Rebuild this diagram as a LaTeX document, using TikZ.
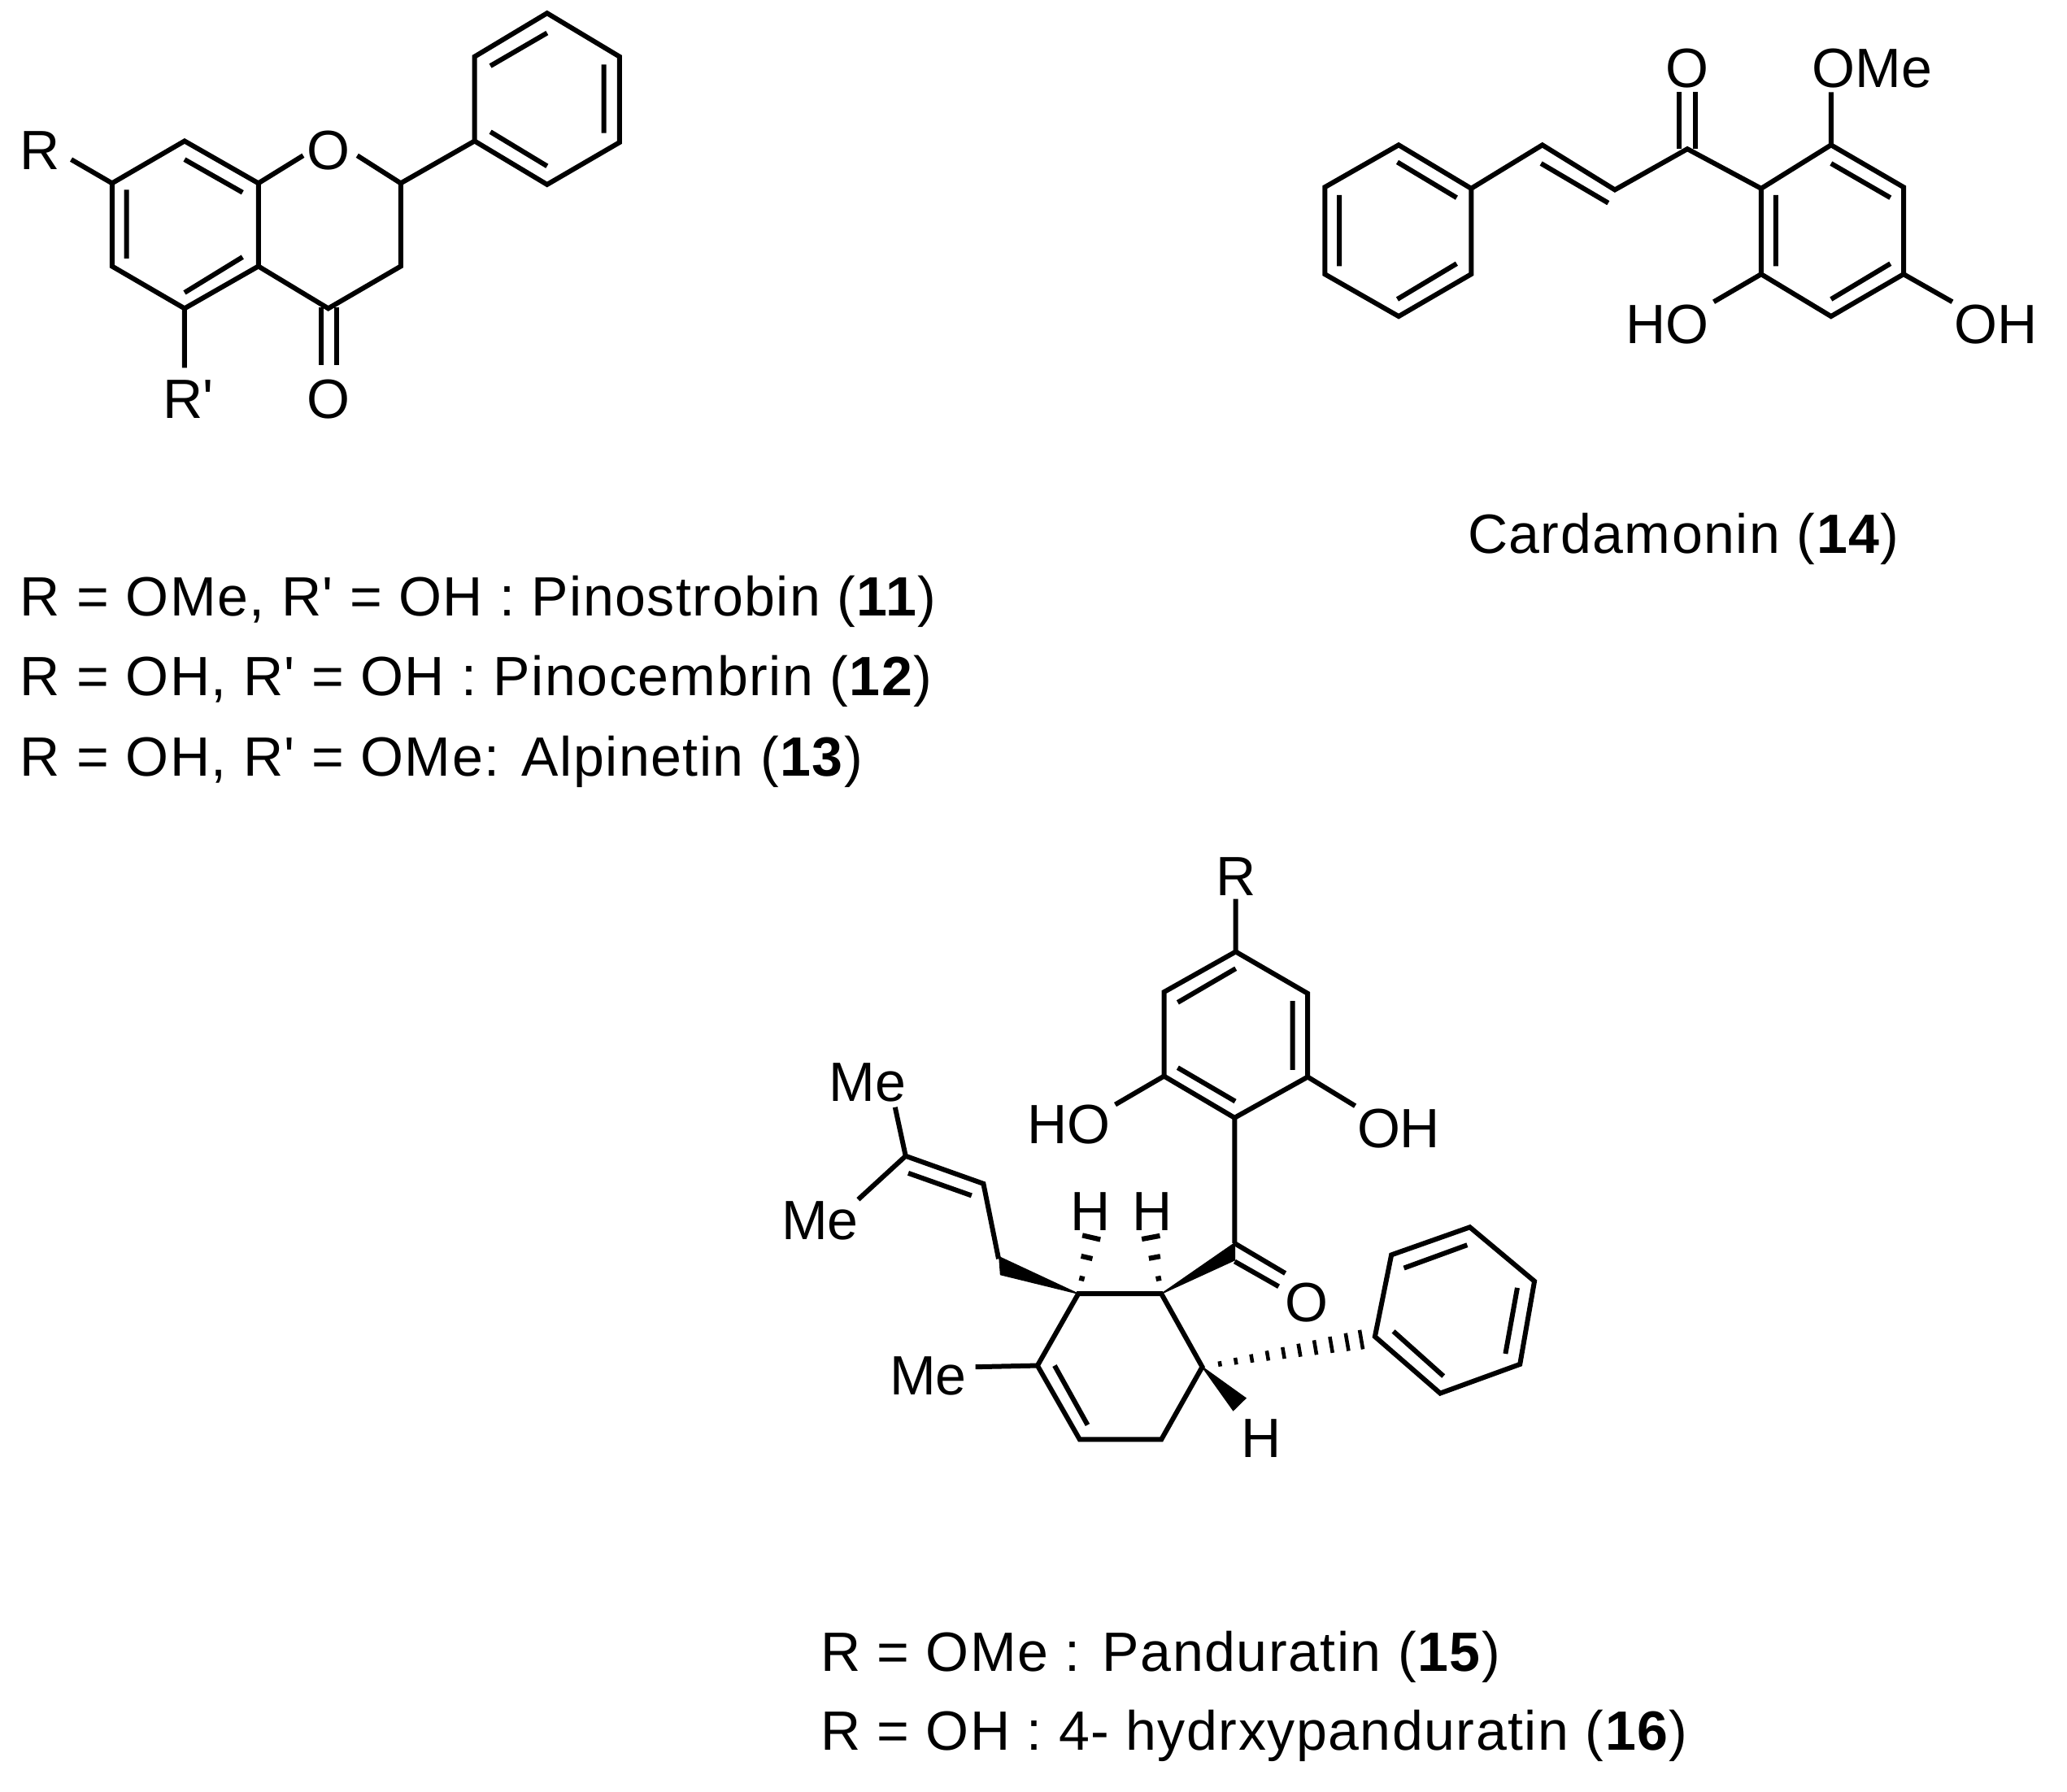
\documentclass[tikz,border=0pt]{standalone}
\usepackage{fontspec}
\setmainfont{Liberation Sans}
\newfontfamily\labfont{Liberation Sans}
\newfontfamily\capfont[LetterSpace=2.2]{Liberation Sans}
\usetikzlibrary{calc}
\begin{document}
\begin{tikzpicture}[x=0.5pt,y=-0.5pt,
 bond/.style={draw=black,line width=1.85pt,line join=miter},
 lab/.style={inner sep=0pt,font=\labfont\fontsize{21}{25}\selectfont,text=black},
 captext/.style={inner sep=0pt,anchor=base west,font=\capfont\fontsize{21}{25}\selectfont,text=black},
 wedgeb/.style={fill=black,draw=black,line width=0.4pt,line join=miter},
 hashb/.style={draw=black,line width=1.9pt},
 hashc/.style={draw=black,line width=1.4pt}]
\useasboundingbox (0,0) rectangle (1568,1359.5);
% ---------- flavanone
\foreach \n/\x/\y in {p1/415/10,p2/470/43,p3/470/108,p4/415/140,p5/360/107,p6/360/43,
 c2/304/139,c3/304/202,c4/249/234,c4a/196/202,c8a/196/139,c8/140/107,c7/85/139,c6/85/202,c5/140/234,
 ob1/230/118,ob2/271/118,rb/54/121,rpb/140/279,
 co1a/243.5/233,co1b/243.5/277,co2a/255.5/233,co2b/255.5/277,
 i1a/140/121,i1b/184/146,i2a/96/144,i2b/96/196,i3a/140/222,i3b/184/195,
 i4a/372/50,i4b/415/25,i5a/458/49,i5b/458/101,i6a/372/100,i6b/415/126}
 \coordinate (\n) at (\x,\y);
\draw[bond] (p1)--(p2)--(p3)--(p4)--(p5)--(p6)--cycle;
\draw[bond] (p5)--(c2)--(c3)--(c4)--(c4a)--(c8a)--(c8)--(c7)--(c6)--(c5)--(c4a);
\draw[bond] (c8a)--(ob1) (c2)--(ob2) (c7)--(rb) (c5)--(rpb);
\draw[bond] (co1a)--(co1b) (co2a)--(co2b);
\draw[bond] (i1a)--(i1b) (i2a)--(i2b) (i3a)--(i3b) (i4a)--(i4b) (i5a)--(i5b) (i6a)--(i6b);
\node[lab] (fO) at (249,114) {O};
\node[lab] (fR) at (30,114) {R};
\node[lab] (fRp) at (143,303) {R'};
\node[lab] (fO2) at (249,303) {O};
\node[captext] (t11) at (15,467) {R = OMe, R' = OH : Pinostrobin (\textbf{11})};
\node[captext] (t12) at (15,528) {R = OH, R' = OH : Pinocembrin (\textbf{12})};
\node[captext] (t13) at (15,589) {R = OH, R' = OMe: Alpinetin (\textbf{13})};
% ---------- cardamonin
\foreach \n/\x/\y in {a1/1061/110,a2/1116/143,a3/1116/208,a4/1061/240,a5/1005/208,a6/1005/142,
 v1/1170/110,v2/1225/144,k/1280/113,kc1a/1274/113,kc1b/1274/70,kc2a/1286/113,kc2b/1286/70,
 b1/1336/143,b2/1389/110,b3/1444/142,b4/1444/208,b5/1389/240,b6/1336/208,
 me/1389/70,ho1/1300/229,ho2/1481/229,
 j1a/1060/123,j1b/1105/150,j2a/1016/148,j2b/1016/202,j3a/1060/227,j3b/1105/200,
 j4a/1169/124,j4b/1220/154,j5a/1347/148,j5b/1347/202,j6a/1389/124,j6b/1434/150,j7a/1389/227,j7b/1434/200}
 \coordinate (\n) at (\x,\y);
\draw[bond] (a1)--(a2)--(a3)--(a4)--(a5)--(a6)--cycle;
\draw[bond] (a2)--(v1)--(v2)--(k)--(b1);
\draw[bond] (b1)--(b2)--(b3)--(b4)--(b5)--(b6)--cycle;
\draw[bond] (b2)--(me) (b6)--(ho1) (b4)--(ho2);
\draw[bond] (kc1a)--(kc1b) (kc2a)--(kc2b);
\draw[bond] (j1a)--(j1b) (j2a)--(j2b) (j3a)--(j3b) (j4a)--(j4b) (j5a)--(j5b) (j6a)--(j6b) (j7a)--(j7b);
\node[lab] (cO) at (1280,52) {O};
\node[lab] (cOMe) at (1420,52) {OMe};
\node[lab] (cHO) at (1265,246) {HO};
\node[lab] (cOH) at (1514,246) {OH};
\node[captext] (t14) at (1113,420) {Cardamonin (\textbf{14})};
% ---------- panduratin
\foreach \n/\x/\y in {ra/818/981.5,rb2/881/981.5,rc/912/1037,rd/881/1092,re/819/1092,rf/787/1036,
 m1/800/1036,m2/825/1081,mb/740/1037,
 wa/758/953.5,wb/759/967,pr1/746/898,pr2/687/877,pr3/679/840,pr4/651/910,pi1/689/890,pi2/737/907,
 pr0/757.5/955,
 kw1/936.6/943,kw2/936.6/956,kc/936.5/848,od1a/937/943.5,od1b/975/966,od2a/936.6/957,od2b/970/976,
 q1/883/816.4,q2/883/752.6,q3/937.4/722,q4/992/753.7,q5/992/817,rbd/937.4/682,
 q6/846/838,q7/1028/839,
 qi1a/893.4/760.5,qi1b/937.4/734.8,qi2a/980.5/759.4,qi2b/980.5/811.7,qi3a/893.4/810,qi3b/937/835.5,
 h1/1115/931,h2/1164/972,h3/1153/1035,h4/1092.5/1057,h5/1043/1014,h6/1055.5/952,
 hi1a/1065/962,hi1b/1113/944.5,hi2a/1151/977,hi2b/1142/1027,hi3a/1057/1010,hi3b/1095/1044,
 w2a/945/1060.7,w2b/935.5/1070,
 he1/828.3/937,he2/872.7/937,he3/1046/1014}
 \coordinate (\n) at (\x,\y);
\draw[bond] (ra)--(rb2)--(rc)--(rd)--(re)--(rf)--cycle;
\draw[bond] (m1)--(m2) (rf)--(mb);
\draw[wedgeb] (ra)--(wa)--(wb)--cycle;
\draw[bond] (pr0)--(pr1)--(pr2)--(pr3) (pr2)--(pr4) (pi1)--(pi2);
\draw[wedgeb] (rb2)--(kw1)--(kw2)--cycle;
\draw[bond] (kc)--(kw1) (od1a)--(od1b) (od2a)--(od2b);
\draw[bond] (kc)--(q1)--(q2)--(q3)--(q4)--(q5)--cycle;
\draw[bond] (q3)--(rbd) (q1)--(q6) (q5)--(q7);
\draw[bond] (qi1a)--(qi1b) (qi2a)--(qi2b) (qi3a)--(qi3b);
\draw[bond] (h1)--(h2)--(h3)--(h4)--(h5)--(h6)--cycle;
\draw[bond] (hi1a)--(hi1b) (hi2a)--(hi2b) (hi3a)--(hi3b);
\draw[wedgeb] (rc)--(w2a)--(w2b)--cycle;
% hashed bonds
\foreach \t/\w in {.26/1.0,.62/2.2,.96/3.5}{
 \draw[hashb] ($(ra)!\t!(he1)!\w pt!90:(he1)$) -- ($(ra)!\t!(he1)!\w pt!-90:(he1)$);
 \draw[hashb] ($(rb2)!\t!(he2)!\w pt!90:(he2)$) -- ($(rb2)!\t!(he2)!\w pt!-90:(he2)$);
}
\foreach \t/\w in {.10/1.0,.19/1.3,.28/1.6,.37/1.9,.46/2.2,.55/2.5,.64/2.8,.73/3.1,.82/3.4,.90/3.7}{
 \draw[hashc] ($(rc)!\t!(he3)!\w pt!90:(he3)$) -- ($(rc)!\t!(he3)!\w pt!-90:(he3)$);
}
\node[lab] (pR) at (937.4,665) {R};
\node[lab] (pHO) at (811,853) {HO};
\node[lab] (pOH) at (1061,856) {OH};
\node[lab] (pMe1) at (658,821) {Me};
\node[lab] (pMe2) at (622,926) {Me};
\node[lab] (pMe3) at (704,1044) {Me};
\node[lab] (pH1) at (827.5,919) {H};
\node[lab] (pH2) at (874,919) {H};
\node[lab] (pO) at (991,988) {O};
\node[lab] (pH3) at (956.5,1091) {H};
\node[captext] (t15) at (622,1268) {R = OMe : Panduratin (\textbf{15})};
\node[captext] (t16) at (622,1328) {R = OH : 4- hydrxypanduratin (\textbf{16})};
\end{tikzpicture}
\end{document}
